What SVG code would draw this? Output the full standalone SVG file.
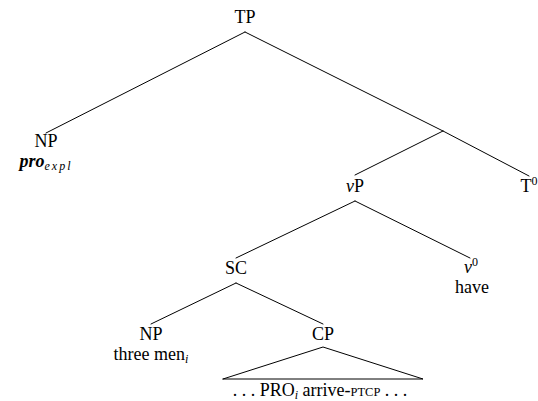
<svg xmlns="http://www.w3.org/2000/svg" width="538" height="401" viewBox="0 0 538 401">
  <style>
    .lbl { font-family: "Liberation Serif", "Times New Roman", serif; font-size: 18px; fill: #000; text-anchor: middle; }
    .it { font-style: italic; }
    .sup { font-size: 12px; }
    .sub { font-size: 12px; font-style: italic; }
    .sc { font-size: 12.5px; }
    .edge { stroke: #000; stroke-width: 1; fill: none; stroke-linecap: round; }
  </style>
  <rect width="538" height="401" fill="#fff"/>

  <!-- branches -->
  <g id="edges">
    <line class="edge" x1="245" y1="32" x2="46" y2="133"/>
    <line class="edge" x1="245" y1="32" x2="443" y2="131"/>
    <line class="edge" x1="443" y1="131" x2="355" y2="175"/>
    <line class="edge" x1="443" y1="131" x2="529" y2="176"/>
    <line class="edge" x1="355" y1="201" x2="236" y2="258"/>
    <line class="edge" x1="355" y1="201" x2="470" y2="258"/>
    <line class="edge" x1="236" y1="283" x2="151" y2="324"/>
    <line class="edge" x1="236" y1="283" x2="323" y2="324"/>
    <!-- roof over the CP content -->
    <polyline class="edge" points="223,379 323,347 423,379 223,379"/>
  </g>

  <g id="TP"><text class="lbl" x="245" y="23">TP</text></g>

  <g id="NP-expl">
    <text class="lbl" x="46" y="147">NP</text>
    <text class="lbl" x="46" y="167"><tspan font-weight="bold" font-style="italic">pro</tspan><tspan class="sub" dy="3" letter-spacing="2">expl</tspan></text>
  </g>

  <g id="vP"><text class="lbl" x="355" y="192"><tspan class="it">v</tspan>P</text></g>

  <g id="T0"><text class="lbl" x="529" y="192">T<tspan class="sup" dy="-7">0</tspan></text></g>

  <g id="SC"><text class="lbl" x="236" y="274">SC</text></g>

  <g id="v0">
    <text class="lbl" x="471" y="273"><tspan class="it">v</tspan><tspan class="sup" dy="-7">0</tspan></text>
    <text class="lbl" x="472" y="293">have</text>
  </g>

  <g id="NP">
    <text class="lbl" x="151" y="340">NP</text>
    <text class="lbl" x="151" y="360">three men<tspan class="sub" dy="3">i</tspan></text>
  </g>

  <g id="CP">
    <text class="lbl" x="323" y="340">CP</text>
    <text class="lbl" x="320" y="396">. . . PRO<tspan class="sub" dy="3">i</tspan><tspan dy="-3"> arrive-</tspan><tspan class="sc">PTCP</tspan> . . .</text>
  </g>
</svg>
